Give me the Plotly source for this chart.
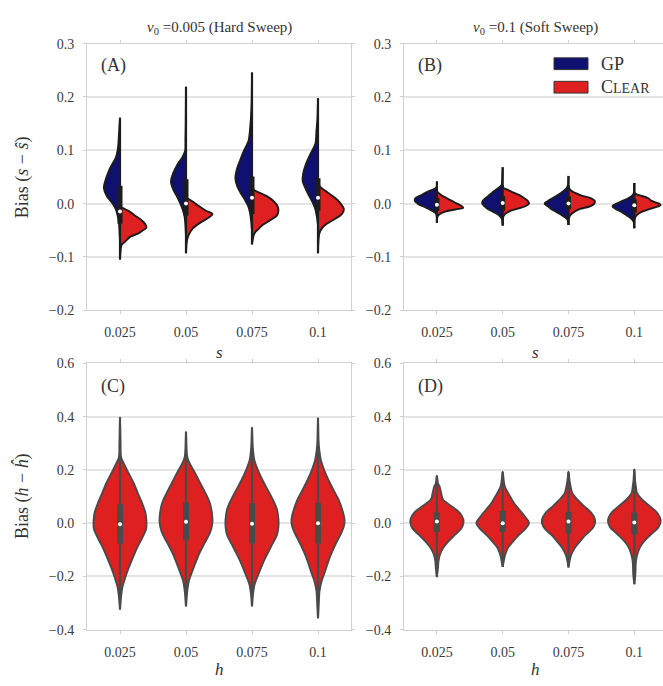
import plotly.graph_objects as go

W, H = 663, 686
CATS = ["0.025", "0.05", "0.075", "0.1"]

BLUE = "#101070"
RED = "#df2020"
EDGE_TOP = "#1c1c1c"
EDGE_BOT = "#4a4a4a"
FONT = "Liberation Serif"

# ---------------- Panel A: hard sweep, bias of s ----------------
A_GP_Y = [
    [0.161, 0.13, 0.112, 0.10, 0.0875, 0.063, 0.0385, 0.029, 0.014, 0.002, -0.0105, -0.0226, -0.035, -0.05, -0.07],
    [0.219, 0.15, 0.12, 0.0997, 0.0875, 0.0752, 0.063, 0.0508, 0.0416, 0.026, 0.014, 0.0018, -0.0105, -0.0226, -0.035, -0.06],
    [0.246, 0.18, 0.136, 0.118, 0.0997, 0.0813, 0.063, 0.0477, 0.0325, 0.020, 0.008, -0.004, -0.0165, -0.029, -0.05],
    [0.1976, 0.16, 0.136, 0.112, 0.0936, 0.0752, 0.0569, 0.0416, 0.026, 0.014, 0.0018, -0.0105, -0.0226, -0.04],
]
A_GP_D = [
    [0, 0.04, 0.06, 0.09, 0.15, 0.41, 0.58, 0.61, 0.50, 0.31, 0.16, 0.09, 0.04, 0.02, 0],
    [0, 0.01, 0.02, 0.03, 0.13, 0.30, 0.43, 0.53, 0.57, 0.48, 0.35, 0.23, 0.13, 0.06, 0.03, 0],
    [0, 0.02, 0.08, 0.13, 0.30, 0.45, 0.58, 0.63, 0.56, 0.43, 0.28, 0.15, 0.08, 0.04, 0],
    [0, 0.02, 0.06, 0.10, 0.28, 0.45, 0.56, 0.58, 0.45, 0.33, 0.20, 0.10, 0.05, 0],
]
A_CL_Y = [
    [-0.0055, -0.0153, -0.0226, -0.0288, -0.038, -0.0453, -0.050, -0.0563, -0.0624, -0.0716, -0.0776, -0.09, -0.105],
    [0.011, 0.005, -0.004, -0.0134, -0.0196, -0.0288, -0.038, -0.047, -0.059, -0.0685, -0.093],
    [0.0275, 0.020, 0.014, 0.005, -0.004, -0.0134, -0.0226, -0.029, -0.035, -0.041, -0.047, -0.053, -0.06, -0.0765],
    [0.0355, 0.029, 0.020, 0.011, 0.0018, -0.0105, -0.0196, -0.0288, -0.038, -0.047, -0.056, -0.093],
]
A_CL_D = [
    [0, 0.38, 0.57, 0.76, 0.95, 1.0, 0.87, 0.68, 0.38, 0.19, 0.06, 0.02, 0],
    [0, 0.22, 0.47, 0.76, 1.0, 0.78, 0.47, 0.25, 0.10, 0.04, 0],
    [0, 0.30, 0.56, 0.81, 0.96, 1.0, 0.94, 0.76, 0.57, 0.38, 0.26, 0.13, 0.06, 0],
    [0, 0.14, 0.39, 0.64, 0.83, 0.98, 0.90, 0.64, 0.33, 0.14, 0.05, 0],
]
A_Q1 = [-0.038, -0.0226, -0.0196, -0.0134]
A_MED = [-0.015, 0.0, 0.011, 0.011]
A_Q3 = [0.0336, 0.0459, 0.0508, 0.0477]
A_LO = [-0.105, -0.093, -0.0765, -0.093]
A_HI = [0.161, 0.219, 0.246, 0.1976]

# ---------------- Panel B: soft sweep, bias of s ----------------
B_GP_Y = [
    [0.0416, 0.03, 0.025, 0.02, 0.015, 0.01, 0.005, 0.0, -0.005, -0.01, -0.015, -0.02, -0.036],
    [0.068, 0.045, 0.035, 0.03, 0.025, 0.02, 0.015, 0.01, 0.005, 0.0, -0.005, -0.01, -0.015, -0.02, -0.025, -0.03, -0.041],
    [0.052, 0.035, 0.03, 0.025, 0.02, 0.015, 0.01, 0.005, 0.0, -0.005, -0.01, -0.015, -0.02, -0.025, -0.03, -0.04],
    [0.0385, 0.02, 0.015, 0.01, 0.005, 0.0, -0.005, -0.01, -0.015, -0.02, -0.025, -0.03, -0.035, -0.046],
]
B_GP_D = [
    [0, 0.02, 0.23, 0.44, 0.63, 0.82, 0.84, 0.73, 0.53, 0.31, 0.13, 0.02, 0],
    [0, 0.02, 0.04, 0.15, 0.28, 0.41, 0.53, 0.66, 0.76, 0.78, 0.69, 0.57, 0.38, 0.19, 0.08, 0.02, 0],
    [0, 0.02, 0.06, 0.15, 0.29, 0.44, 0.61, 0.78, 0.91, 0.78, 0.66, 0.48, 0.31, 0.15, 0.04, 0],
    [0, 0.02, 0.08, 0.23, 0.45, 0.67, 0.83, 0.71, 0.50, 0.35, 0.20, 0.08, 0.02, 0],
]
B_CL_Y = [
    [0.023, 0.015, 0.01, 0.005, 0.0, -0.005, -0.008, -0.01, -0.015, -0.02, -0.025, -0.036],
    [0.035, 0.03, 0.025, 0.02, 0.015, 0.01, 0.005, 0.0, -0.005, -0.01, -0.015, -0.02, -0.025, -0.041],
    [0.035, 0.03, 0.025, 0.02, 0.015, 0.01, 0.005, 0.0, -0.005, -0.01, -0.015, -0.02, -0.025, -0.04],
    [0.0385, 0.02, 0.017, 0.015, 0.01, 0.005, 0.0, -0.003, -0.005, -0.01, -0.015, -0.02, -0.025, -0.03, -0.046],
]
B_CL_D = [
    [0, 0.19, 0.38, 0.57, 0.76, 0.95, 1.0, 0.82, 0.31, 0.10, 0.02, 0],
    [0, 0.02, 0.23, 0.44, 0.67, 0.82, 0.95, 1.0, 0.86, 0.54, 0.23, 0.08, 0.02, 0],
    [0, 0.02, 0.08, 0.25, 0.50, 0.86, 1.0, 0.98, 0.82, 0.44, 0.23, 0.10, 0.03, 0],
    [0, 0.02, 0.11, 0.25, 0.53, 0.66, 0.94, 1.0, 0.91, 0.59, 0.30, 0.13, 0.04, 0.01, 0],
]
B_Q1 = [-0.0134, -0.0134, -0.0104, -0.0165]
B_MED = [-0.002, 0.001, 0.0, -0.003]
B_Q3 = [0.011, 0.014, 0.014, 0.008]
B_LO = [-0.036, -0.041, -0.040, -0.046]
B_HI = [0.0416, 0.068, 0.052, 0.0385]

# ---------------- Panel C: hard sweep, bias of h (CLEAR) ----------------
C_Y = [
    [0.398, 0.30, 0.248, 0.224, 0.187, 0.150, 0.114, 0.077, 0.040, 0.010, -0.021, -0.057, -0.094, -0.131, -0.167, -0.204, -0.241, -0.277, -0.324],
    [0.343, 0.28, 0.248, 0.224, 0.187, 0.150, 0.114, 0.077, 0.040, 0.004, -0.033, -0.070, -0.106, -0.143, -0.180, -0.216, -0.253, -0.312],
    [0.359, 0.30, 0.273, 0.236, 0.2, 0.163, 0.126, 0.090, 0.053, 0.016, -0.015, -0.045, -0.082, -0.119, -0.155, -0.192, -0.229, -0.265, -0.312],
    [0.395, 0.31, 0.273, 0.236, 0.2, 0.163, 0.126, 0.090, 0.053, 0.016, -0.002, -0.033, -0.070, -0.106, -0.143, -0.18, -0.216, -0.253, -0.302, -0.357],
]
C_D = [
    [0, 0.02, 0.04, 0.14, 0.33, 0.52, 0.67, 0.83, 0.96, 1.0, 0.99, 0.83, 0.64, 0.48, 0.33, 0.20, 0.09, 0.04, 0],
    [0, 0.02, 0.05, 0.14, 0.35, 0.54, 0.73, 0.90, 0.98, 1.0, 0.92, 0.73, 0.54, 0.38, 0.24, 0.11, 0.05, 0],
    [0, 0.02, 0.04, 0.09, 0.22, 0.39, 0.59, 0.78, 0.94, 1.0, 1.0, 0.94, 0.75, 0.56, 0.39, 0.24, 0.10, 0.04, 0],
    [0, 0.02, 0.05, 0.11, 0.23, 0.39, 0.58, 0.77, 0.91, 1.0, 1.0, 0.90, 0.71, 0.54, 0.39, 0.27, 0.14, 0.06, 0.03, 0],
]
C_Q1 = [-0.076, -0.064, -0.076, -0.076]
C_MED = [-0.004, 0.005, -0.002, 0.0]
C_Q3 = [0.071, 0.077, 0.075, 0.075]
C_LO = [-0.324, -0.312, -0.312, -0.357]
C_HI = [0.398, 0.343, 0.359, 0.395]

# ---------------- Panel D: soft sweep, bias of h (CLEAR) ----------------
D_Y = [
    [0.178, 0.15, 0.138, 0.114, 0.089, 0.065, 0.040, 0.016, -0.002, -0.021, -0.045, -0.070, -0.094, -0.119, -0.143, -0.17, -0.202],
    [0.193, 0.16, 0.138, 0.102, 0.077, 0.053, 0.028, 0.001, -0.021, -0.045, -0.070, -0.094, -0.119, -0.143, -0.164],
    [0.193, 0.16, 0.138, 0.114, 0.089, 0.065, 0.040, 0.016, -0.002, -0.021, -0.045, -0.070, -0.094, -0.119, -0.143, -0.166],
    [0.202, 0.16, 0.138, 0.114, 0.089, 0.065, 0.040, 0.010, -0.015, -0.039, -0.063, -0.088, -0.112, -0.143, -0.192, -0.229],
]
D_D = [
    [0, 0.04, 0.10, 0.16, 0.23, 0.54, 0.86, 1.0, 1.0, 0.92, 0.67, 0.42, 0.23, 0.11, 0.06, 0.04, 0],
    [0, 0.04, 0.08, 0.27, 0.42, 0.61, 0.82, 1.0, 0.86, 0.61, 0.38, 0.19, 0.09, 0.04, 0],
    [0, 0.04, 0.08, 0.14, 0.33, 0.58, 0.86, 1.0, 1.0, 0.90, 0.64, 0.42, 0.23, 0.10, 0.04, 0],
    [0, 0.03, 0.06, 0.10, 0.29, 0.58, 0.86, 1.0, 0.92, 0.67, 0.42, 0.23, 0.13, 0.06, 0.04, 0],
]
D_Q1 = [-0.033, -0.033, -0.039, -0.042]
D_MED = [0.006, 0.0, 0.006, 0.003]
D_Q3 = [0.040, 0.046, 0.043, 0.040]
D_LO = [-0.202, -0.164, -0.166, -0.229]
D_HI = [0.178, 0.193, 0.193, 0.202]

HALF = 0.4  # half width of the widest violin, in category units

fig = go.Figure()


def half_violin(ax, i, ys, ds, side, color, edge):
    xs = [i + side * HALF * d for d in ds]
    fig.add_trace(go.Scatter(
        x=xs, y=ys, xaxis="x" + ax, yaxis="y" + ax, mode="lines",
        line=dict(color=edge, width=1.9, shape="spline", smoothing=0.9),
        fill="toself", fillcolor=color, hoverinfo="skip", showlegend=False))


def full_violin(ax, i, ys, ds, color, edge):
    xs = [i + HALF * d for d in ds] + [i - HALF * d for d in reversed(ds)]
    yy = list(ys) + list(reversed(ys))
    fig.add_trace(go.Scatter(
        x=xs, y=yy, xaxis="x" + ax, yaxis="y" + ax, mode="lines",
        line=dict(color=edge, width=1.9, shape="spline", smoothing=0.9),
        fill="toself", fillcolor=color, hoverinfo="skip", showlegend=False))


def inner_box(ax, i, lo, q1, med, q3, hi, edge, box_w):
    fig.add_trace(go.Scatter(
        x=[i, i], y=[lo, hi], xaxis="x" + ax, yaxis="y" + ax, mode="lines",
        line=dict(color=edge, width=2.2), hoverinfo="skip", showlegend=False))
    fig.add_trace(go.Scatter(
        x=[i, i], y=[q1, q3], xaxis="x" + ax, yaxis="y" + ax, mode="lines",
        line=dict(color=edge, width=box_w), hoverinfo="skip", showlegend=False))
    fig.add_trace(go.Scatter(
        x=[i], y=[med], xaxis="x" + ax, yaxis="y" + ax, mode="markers",
        marker=dict(color="white", size=4, line=dict(width=0)),
        hoverinfo="skip", showlegend=False))


for i in range(4):
    half_violin("", i, A_GP_Y[i], A_GP_D[i], -1, BLUE, EDGE_TOP)
    half_violin("", i, A_CL_Y[i], A_CL_D[i], 1, RED, EDGE_TOP)
    inner_box("", i, A_LO[i], A_Q1[i], A_MED[i], A_Q3[i], A_HI[i], EDGE_TOP, 5)

    half_violin("2", i, B_GP_Y[i], B_GP_D[i], -1, BLUE, EDGE_TOP)
    half_violin("2", i, B_CL_Y[i], B_CL_D[i], 1, RED, EDGE_TOP)
    inner_box("2", i, B_LO[i], B_Q1[i], B_MED[i], B_Q3[i], B_HI[i], EDGE_TOP, 5)

    full_violin("3", i, C_Y[i], C_D[i], RED, EDGE_BOT)
    inner_box("3", i, C_LO[i], C_Q1[i], C_MED[i], C_Q3[i], C_HI[i], EDGE_BOT, 6)

    full_violin("4", i, D_Y[i], D_D[i], RED, EDGE_BOT)
    inner_box("4", i, D_LO[i], D_Q1[i], D_MED[i], D_Q3[i], D_HI[i], EDGE_BOT, 6)

# --- axes ---
GRID = "#e4e4e4"
SPINE = "#d0d0d0"
tickfont = dict(family=FONT, size=14, color="#3a3a3a")


def px_x(p):
    return p / W


def px_y(p):
    return 1 - p / H


def xax(domain, rng, anchor, mirror):
    return dict(domain=domain, range=rng, anchor=anchor,
                tickmode="array", tickvals=[0, 1, 2, 3], ticktext=CATS,
                showgrid=False, zeroline=False, showline=True, linecolor=SPINE,
                linewidth=1, mirror=mirror, ticks="outside", ticklen=3,
                tickcolor=SPINE, tickfont=tickfont, ticklabelstandoff=6)


def yax(domain, rng, dtick, anchor, mirror, fmt):
    return dict(domain=domain, range=rng, anchor=anchor, dtick=dtick,
                tick0=0, tickformat=fmt, showgrid=True, gridcolor=GRID,
                gridwidth=1.6, zeroline=False, showline=True, linecolor=SPINE,
                linewidth=1, mirror=mirror, ticks="outside", ticklen=3,
                tickcolor=SPINE, tickfont=tickfont, ticklabelstandoff=6)


xa = [px_x(87), px_x(351)]
xb = [px_x(404), 1.0]
yt = [px_y(310), px_y(37.5)]
yb = [px_y(636.7), px_y(364.3)]
rng_b = [-0.5, -0.5 + (W - 404) / 65.8]

fig.update_layout(
    width=W, height=H, margin=dict(l=0, r=0, t=0, b=0),
    paper_bgcolor="white", plot_bgcolor="white",
    font=dict(family=FONT, color="#333333"),
    xaxis=xax(xa, [-0.5, 3.5], "y", "ticks"),
    yaxis=yax(yt, [-0.2, 0.3], 0.1, "x", "ticks", ".1f"),
    xaxis2=xax(xb, rng_b, "y2", "ticks"),
    yaxis2=yax(yt, [-0.2, 0.3], 0.1, "x2", False, ".1f"),
    xaxis3=xax(xa, [-0.5, 3.5], "y3", "ticks"),
    yaxis3=yax(yb, [-0.4, 0.6], 0.2, "x3", "ticks", ".1f"),
    xaxis4=xax(xb, rng_b, "y4", "ticks"),
    yaxis4=yax(yb, [-0.4, 0.6], 0.2, "x4", False, ".1f"),
    separators=".\u2212",
)

ann = []


def note(x, y, text, size, xanchor="center", angle=0):
    ann.append(dict(x=x, y=y, xref="paper", yref="paper", text=text,
                    showarrow=False, xanchor=xanchor, yanchor="middle",
                    textangle=angle, font=dict(family=FONT, size=size, color="#333333")))


note(px_x(219), px_y(21), "<i>ν</i><sub>0</sub> =0.005 (Hard Sweep)", 15)
note(px_x(535), px_y(21), "<i>ν</i><sub>0</sub> =0.1 (Soft Sweep)", 15)
note(px_x(99), px_y(60), "(A)", 18, "left")
note(px_x(416), px_y(60), "(B)", 18, "left")
note(px_x(99), px_y(388), "(C)", 18, "left")
note(px_x(416), px_y(388), "(D)", 18, "left")
note(px_x(219), px_y(353), "<i>s</i>", 17)
note(px_x(535), px_y(353), "<i>s</i>", 17)
note(px_x(219), px_y(677), "<i>h</i>", 17)
note(px_x(535), px_y(677), "<i>h</i>", 17)
note(px_x(22), px_y(174), "Bias (<i>s</i> \u2212 <i>ŝ</i>)", 18, angle=-90)
note(px_x(22), px_y(500), "Bias (<i>h</i> \u2212 <i>ĥ</i>)", 18, angle=-90)
note(px_x(599), px_y(58), "GP", 18, "left")
note(px_x(599), px_y(82), "C<span style='font-size:14px'>LEAR</span>", 18, "left")
fig.update_layout(annotations=ann)

fig.add_shape(type="rect", xref="paper", yref="paper",
              x0=px_x(554), x1=px_x(588), y0=px_y(64), y1=px_y(52),
              fillcolor=BLUE, line=dict(color="#333333", width=1))
fig.add_shape(type="rect", xref="paper", yref="paper",
              x0=px_x(554), x1=px_x(588), y0=px_y(88), y1=px_y(76),
              fillcolor=RED, line=dict(color="#333333", width=1))

fig.write_html("out.html")
